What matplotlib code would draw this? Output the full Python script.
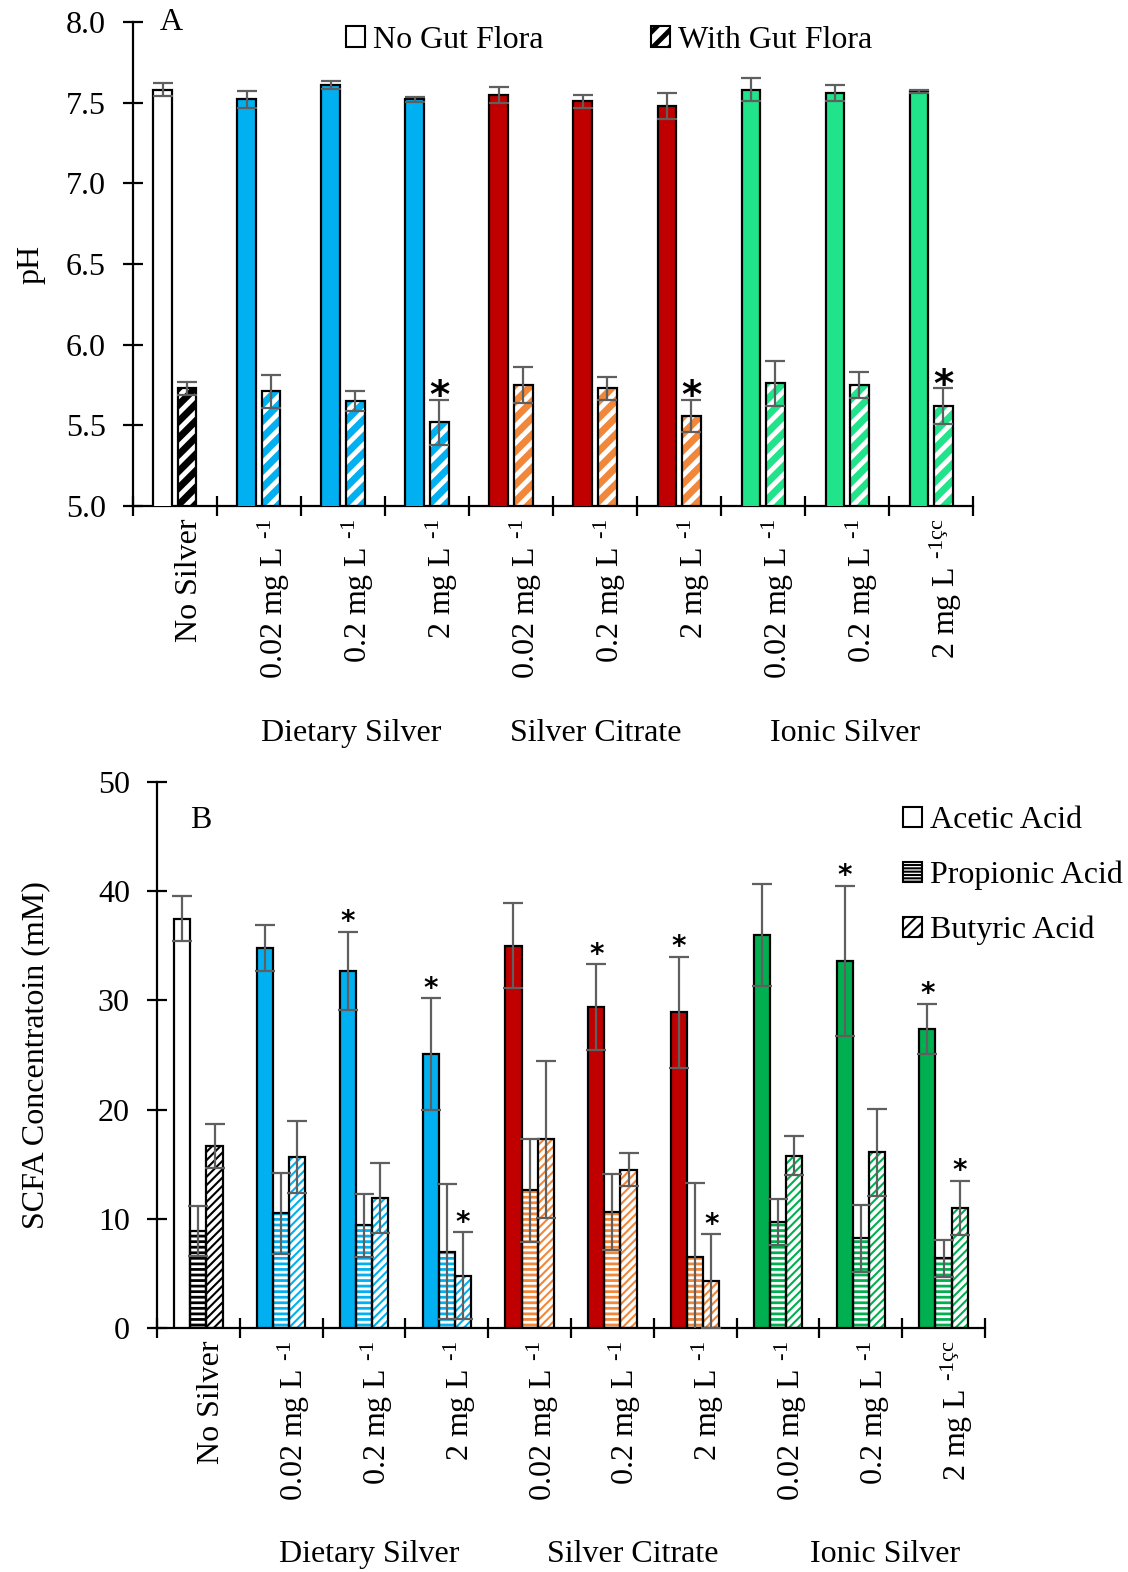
import numpy as np
import matplotlib
matplotlib.use('Agg')
import matplotlib.pyplot as plt
import matplotlib.transforms as mtransforms
from matplotlib.patches import Patch

plt.rcParams['font.family'] = ['Liberation Serif', 'DejaVu Serif']
plt.rcParams['mathtext.fontset'] = 'custom'
plt.rcParams['mathtext.rm'] = 'Liberation Serif'
plt.rcParams['mathtext.it'] = 'Liberation Serif:italic'
plt.rcParams['mathtext.bf'] = 'Liberation Serif:bold'

# categories / labels
sup = r'$^{\text{-1}}$'
categories = ['No Silver',
              '0.02 mg L ' + sup, '0.2 mg L ' + sup, '2 mg L ' + sup,
              '0.02 mg L ' + sup, '0.2 mg L ' + sup, '2 mg L ' + sup,
              '0.02 mg L ' + sup, '0.2 mg L ' + sup, r'2 mg L $^{\text{-1çc}}$']
groups = ['Dietary Silver', 'Silver Citrate', 'Ionic Silver']

# panel A: pH
ph_no_flora = [7.58, 7.52, 7.61, 7.52, 7.55, 7.51, 7.48, 7.58, 7.56, 7.57]
ph_no_flora_err = [0.04, 0.05, 0.026, 0.017, 0.05, 0.04, 0.08, 0.07, 0.05, 0.01]
ph_flora = [5.73, 5.71, 5.65, 5.52, 5.75, 5.73, 5.56, 5.76, 5.75, 5.62]
ph_flora_err = [0.04, 0.10, 0.06, 0.14, 0.11, 0.07, 0.10, 0.14, 0.08, 0.11]
ph_flora_sig = [3, 6, 9]

# panel B: SCFA (mM)
acetic = [37.5, 34.8, 32.7, 25.1, 35.0, 29.4, 28.9, 36.0, 33.6, 27.4]
acetic_err = [2.1, 2.1, 3.6, 5.1, 3.9, 3.9, 5.1, 4.7, 6.9, 2.3]
acetic_sig = [2, 3, 5, 6, 8, 9]
propionic = [8.9, 10.5, 9.4, 7.0, 12.6, 10.6, 6.5, 9.7, 8.2, 6.4]
propionic_err = [2.3, 3.7, 2.9, 6.2, 4.7, 3.5, 6.8, 2.1, 3.1, 1.7]
butyric = [16.7, 15.7, 11.9, 4.8, 17.3, 14.5, 4.3, 15.8, 16.1, 11.0]
butyric_err = [2.0, 3.3, 3.2, 4.0, 7.2, 1.5, 4.3, 1.8, 4.0, 2.5]
butyric_sig = [3, 6, 9]

BLUE, RED, ORANGE, LGREEN, GREEN = '#00B0F0', '#C00000', '#F0873A', '#20E38A', '#00B050'
solid_a = ['white'] + [BLUE] * 3 + [RED] * 3 + [LGREEN] * 3
hatch_a = ['black'] + [BLUE] * 3 + [ORANGE] * 3 + [LGREEN] * 3
solid_b = ['white'] + [BLUE] * 3 + [RED] * 3 + [GREEN] * 3
hatch_b = ['black'] + [BLUE] * 3 + [ORANGE] * 3 + [GREEN] * 3

FS = 23
ERRC = '#5f5f5f'
x = np.arange(len(categories)) + 0.5


def set_hlw(patches, hlw):
    for p in patches:
        if hasattr(p, 'set_hatch_linewidth'):
            p.set_hatch_linewidth(hlw)


def hatched(ax, xs, h, w, colors, hatch, hlw):
    bars = ax.bar(xs, h, w, color='white', edgecolor=colors, hatch=hatch, linewidth=0, zorder=2)
    set_hlw(bars, hlw)
    ax.bar(xs, h, w, fill=False, edgecolor='black', linewidth=1.6, zorder=3)


def errs(ax, xs, h, e):
    ax.errorbar(xs, h, yerr=e, fmt='none', ecolor=ERRC, elinewidth=1.6,
                capsize=7, capthick=1.6, zorder=4)


def stars(ax, xs, h, e, idx, size, dy):
    for i in idx:
        ax.annotate('*', (xs[i], h[i] + e[i]), xytext=(0, dy), textcoords='offset points',
                    ha='center', va='baseline', fontsize=size, fontweight='bold',
                    family='DejaVu Sans', zorder=5)


def style(ax, n, dx):
    for s in ['top', 'right']:
        ax.spines[s].set_visible(False)
    for s in ['left', 'bottom']:
        ax.spines[s].set_linewidth(1.6)
    ax.set_xlim(0, n)
    ax.set_xticks(x)
    ax.set_xticklabels(categories, rotation=90, fontsize=FS)
    ax.set_xticks(np.arange(n + 1), minor=True)
    ax.tick_params(axis='x', which='major', length=0, pad=9)
    ax.tick_params(axis='x', which='minor', length=15, width=1.6, direction='inout')
    ax.tick_params(axis='y', length=15, width=1.6, direction='inout', labelsize=FS, pad=12)
    shift = mtransforms.ScaledTranslation(dx / 100, 0, fig.dpi_scale_trans)
    for lab in ax.get_xticklabels():
        lab.set_transform(lab.get_transform() + shift)


fig = plt.figure(figsize=(11.28, 15.72), dpi=100)

# ---- panel A ----
axA = fig.add_axes([0.1179, 0.6781, 0.7447, 0.3079])
wA, offA = 0.226, 0.143
axA.bar(x - offA, ph_no_flora, wA, color=solid_a, edgecolor='black', linewidth=1.6, zorder=3)
hatched(axA, x + offA, ph_flora, wA, hatch_a, '//', 5)
errs(axA, x - offA, ph_no_flora, ph_no_flora_err)
errs(axA, x + offA, ph_flora, ph_flora_err)
stars(axA, x + offA, ph_flora, ph_flora_err, ph_flora_sig, 28, -6)
axA.set_ylim(5.0, 8.0)
axA.set_yticks(np.arange(5.0, 8.01, 0.5))
axA.set_yticklabels(['%.1f' % v for v in np.arange(5.0, 8.01, 0.5)])
style(axA, len(categories), 15)
axA.set_ylabel('pH', fontsize=FS, labelpad=15)
axA.text(0.032, 1.0, 'A', transform=axA.transAxes, fontsize=FS, va='center')
legA = [Patch(facecolor='white', edgecolor='black', linewidth=1.5, label='No Gut Flora'),
        Patch(facecolor='white', edgecolor='black', linewidth=1.5, hatch='//', label='With Gut Flora')]
lA = axA.legend(handles=legA, ncol=2, loc='center', bbox_to_anchor=(0.567, 0.962), frameon=False,
                fontsize=FS, handlelength=0.6, handleheight=0.6, handletextpad=0.25,
                columnspacing=3.35, borderpad=0)
set_hlw(lA.legend_handles[1:], 3.5)
trA = mtransforms.blended_transform_factory(axA.transData, axA.transAxes)
for g, c in zip(groups, [2.6, 5.51, 8.48]):
    axA.text(c, -0.47, g, transform=trA, ha='center', va='center', fontsize=FS)

# ---- panel B ----
axB = fig.add_axes([0.1392, 0.1552, 0.7340, 0.3473])
wB = 0.195
axB.bar(x - wB, acetic, wB, color=solid_b, edgecolor='black', linewidth=1.6, zorder=3)
hatched(axB, x, propionic, wB, hatch_b, '---', 2.0)
hatched(axB, x + wB, butyric, wB, hatch_b, '////', 1.5)
errs(axB, x - wB, acetic, acetic_err)
errs(axB, x, propionic, propionic_err)
errs(axB, x + wB, butyric, butyric_err)
stars(axB, x - wB, acetic, acetic_err, acetic_sig, 20, 1)
stars(axB, x + wB, butyric, butyric_err, butyric_sig, 20, 1)
axB.set_ylim(0, 50)
axB.set_yticks(np.arange(0, 51, 10))
style(axB, len(categories), 13)
axB.set_ylabel('SCFA Concentratoin (mM)', fontsize=FS, labelpad=34)
axB.text(0.04, 0.93, 'B', transform=axB.transAxes, fontsize=FS, va='center')
legB = [Patch(facecolor='white', edgecolor='black', linewidth=1.5, label='Acetic Acid'),
        Patch(facecolor='white', edgecolor='black', linewidth=1.5, hatch='-----', label='Propionic Acid'),
        Patch(facecolor='white', edgecolor='black', linewidth=1.5, hatch='///', label='Butyric Acid')]
lB = axB.legend(handles=legB, loc='upper left', bbox_to_anchor=(0.882, 0.985), frameon=False,
                fontsize=FS, handlelength=0.6, handleheight=0.6, handletextpad=0.25,
                labelspacing=0.8, borderpad=0)
set_hlw(lB.legend_handles[1:], 1.5)
trB = mtransforms.blended_transform_factory(axB.transData, axB.transAxes)
for g, c in zip(groups, [2.56, 5.74, 8.79]):
    axB.text(c, -0.414, g, transform=trB, ha='center', va='center', fontsize=FS)

fig.savefig('out.png', dpi=100)
